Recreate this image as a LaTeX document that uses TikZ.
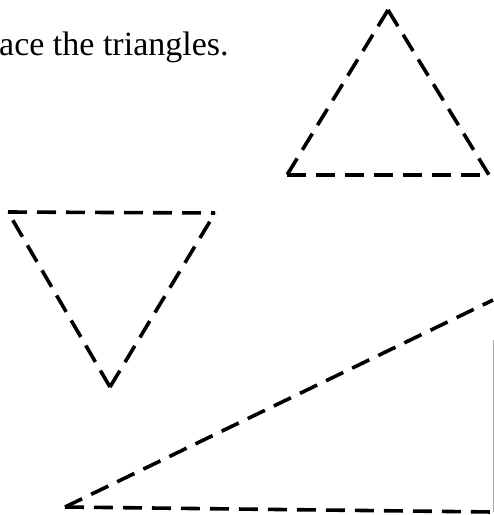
\documentclass[tikz,border=0pt]{standalone}
\usepackage{fontspec}
\setmainfont{Liberation Serif}
\begin{document}
\begin{tikzpicture}[x=1pt,y=-1pt,
  dashline/.style={line width=3.6pt, dash pattern=on 19pt off 10pt, line cap=butt, black},
  thinline/.style={line width=0.8pt, gray!70},
  label/.style={font=\fontsize{34}{38}\selectfont, inner sep=0pt, anchor=base west}]
\useasboundingbox (0,0) rectangle (494,515);
\node[label] (title) at (-1,55) {ace the triangles.};
% top triangle
\coordinate (t1) at (388,10);
\coordinate (t2) at (287,175);
\coordinate (t3) at (489,175);
\draw[dashline] (t1) -- (t2);
\draw[dashline] (t1) -- (t3);
\draw[dashline] (t2) -- (t3);
% inverted triangle
\coordinate (l1) at (8,212);
\coordinate (l2) at (215,213);
\coordinate (l3) at (110,387);
\draw[dashline] (l1) -- (l2);
\draw[dashline] (l3) -- (l1);
\draw[dashline] (l3) -- (l2);
% right triangle
\coordinate (r1) at (65,507);
\coordinate (r2) at (493,300);
\coordinate (r3) at (493,512);
\coordinate (r4) at (493,340);
\draw[dashline] (r1) -- (r2);
\draw[dashline] (r1) -- (r3);
\draw[thinline] (r4) -- (r3);
\end{tikzpicture}
\end{document}
